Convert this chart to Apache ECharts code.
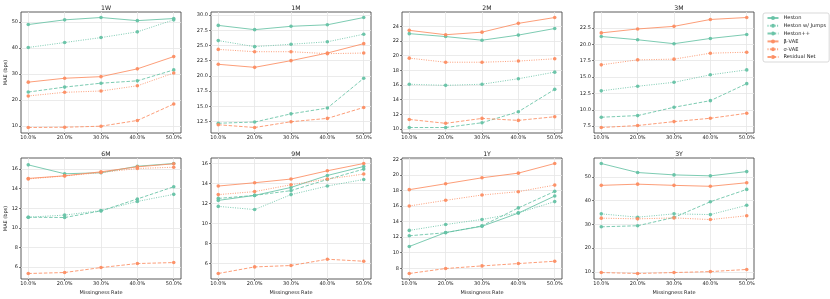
<!DOCTYPE html>
<html><head><meta charset="utf-8">
<script src="https://cdn.jsdelivr.net/npm/echarts@6/dist/echarts.min.js"></script>
<style>html,body{margin:0;padding:0;background:#fff}#c{width:830px;height:299px}</style>
</head><body><div id="c"></div>
<script>
// Missingness rates (x values, %)
const rates = [10, 20, 30, 40, 50];
const maturities = ['1W', '1M', '2M', '3M', '6M', '9M', '1Y', '3Y'];
const seriesNames = ['Heston', 'Heston w/ Jumps', 'Heston++', 'β-VAE', 'σ-VAE', 'Residual Net'];

// Rows follow maturities order: 1W, 1M, 2M, 3M, 6M, 9M, 1Y, 3Y
const heston = [
  [49.0, 50.8, 51.7, 50.5, 51.3],
  [28.3, 27.6, 28.15, 28.4, 29.6],
  [23.0, 22.6, 22.1, 22.8, 23.7],
  [21.2, 20.7, 20.1, 20.9, 21.5],
  [16.44, 15.53, 15.63, 16.3, 16.58],
  [12.3, 12.8, 13.6, 14.8, 15.7],
  [10.8, 12.6, 13.4, 15.1, 17.3],
  [55.6, 51.8, 50.8, 50.4, 52.2]
];
const hestonJumps = [
  [40.2, 42.1, 44.0, 46.2, 50.8],
  [25.8, 24.8, 25.2, 25.6, 26.85],
  [16.1, 15.95, 16.1, 16.85, 17.75],
  [12.9, 13.6, 14.2, 15.35, 16.1],
  [11.08, 11.3, 11.76, 12.7, 13.42],
  [11.7, 11.38, 12.88, 13.74, 14.4],
  [12.87, 13.63, 14.28, 15.13, 16.58],
  [34.4, 33.0, 34.4, 34.1, 38.0]
];
const hestonPP = [
  [23.1, 25.0, 26.5, 27.4, 31.6],
  [12.2, 12.4, 13.75, 14.7, 19.6],
  [10.2, 10.2, 10.85, 12.35, 15.4],
  [8.87, 9.12, 10.39, 11.4, 14.0],
  [11.08, 11.05, 11.73, 12.95, 14.2],
  [12.5, 12.8, 13.28, 14.4, 15.44],
  [12.18, 12.57, 13.46, 15.77, 17.9],
  [28.95, 29.4, 32.9, 39.5, 44.7]
];
const betaVAE = [
  [26.9, 28.4, 29.0, 32.0, 36.7],
  [21.9, 21.4, 22.5, 23.75, 25.3],
  [23.45, 22.85, 23.2, 24.4, 25.2],
  [21.75, 22.35, 22.75, 23.8, 24.1],
  [15.05, 15.32, 15.73, 16.24, 16.55],
  [13.74, 14.07, 14.44, 15.27, 16.0],
  [18.12, 18.88, 19.65, 20.25, 21.49],
  [46.4, 46.9, 46.4, 46.0, 47.5]
];
const sigmaVAE = [
  [21.6, 23.0, 23.5, 25.5, 30.4],
  [24.35, 23.97, 23.97, 23.65, 23.75],
  [19.66, 19.1, 19.1, 19.26, 19.57],
  [16.87, 17.63, 17.74, 18.65, 18.8],
  [15.0, 15.3, 15.66, 16.07, 16.2],
  [12.88, 13.18, 13.87, 14.44, 14.94],
  [16.02, 16.75, 17.43, 17.86, 18.71],
  [32.6, 32.3, 32.7, 32.0, 33.6]
];
const residualNet = [
  [9.5, 9.6, 10.0, 12.2, 18.5],
  [11.95, 11.5, 12.45, 13.0, 14.8],
  [11.3, 10.77, 11.44, 11.17, 11.67],
  [7.3, 7.6, 8.2, 8.71, 9.47],
  [5.32, 5.42, 5.93, 6.34, 6.44],
  [4.97, 5.63, 5.77, 6.4, 6.2],
  [7.32, 7.96, 8.3, 8.6, 8.9],
  [9.7, 9.3, 9.7, 10.1, 11.0]
];
// Y tick labels per panel
const yTicks = [
  [10, 20, 30, 40, 50],
  [12.5, 15, 17.5, 20, 22.5, 25, 27.5, 30],
  [10, 12, 14, 16, 18, 20, 22, 24],
  [7.5, 10, 12.5, 15, 17.5, 20, 22.5],
  [6, 8, 10, 12, 14, 16],
  [6, 8, 10, 12, 14, 16],
  [8, 10, 12, 14, 16, 18, 20, 22],
  [10, 20, 30, 40, 50]
];
const yDecimals = [0, 1, 0, 1, 0, 0, 0, 0];
const xTicks = [10, 20, 30, 40, 50];

const allData = [heston, hestonJumps, hestonPP, betaVAE, sigmaVAE, residualNet];
const GREEN = '#66c2a5', ORANGE = '#fc8d62';
const styles = [
  {color: GREEN, type: 'solid'},
  {color: GREEN, type: [1, 1.4]},
  {color: GREEN, type: [3.5, 1.7]},
  {color: ORANGE, type: 'solid'},
  {color: ORANGE, type: [1, 1.4]},
  {color: ORANGE, type: [3.5, 1.7]}
];

const FONT = 'DejaVu Sans';
const lefts = [21, 211, 402, 594];
const tops = [12, 158];
const W = 160, H = 121;

const grids = [], xAxes = [], yAxes = [], titles = [], series = [];
maturities.forEach((m, i) => {
  const col = i % 4, row = Math.floor(i / 4);
  grids.push({left: lefts[col], top: tops[row], width: W, height: H,
    show: true, borderColor: '#4a4a4a', borderWidth: 0.9, backgroundColor: 'transparent', containLabel: false});
  titles.push({text: m, left: lefts[col] + W / 2, top: tops[row] - 12, textAlign: 'center',
    textStyle: {fontFamily: FONT, fontSize: 6.2, fontWeight: 'normal', color: '#222'}});
  // y range with 5% padding like matplotlib autoscale
  let lo = Infinity, hi = -Infinity;
  allData.forEach(d => d[i].forEach(v => { lo = Math.min(lo, v); hi = Math.max(hi, v); }));
  const pad = (hi - lo) * 0.05;
  const dec = yDecimals[i];
  xAxes.push({type: 'value', gridIndex: i, min: 8, max: 52,
    axisLine: {show: false},
    axisTick: {show: true, length: 2, lineStyle: {color: '#444', width: 0.7}, customValues: xTicks},
    axisLabel: {customValues: xTicks, fontFamily: FONT, fontSize: 5, color: '#222', margin: 2.5,
      formatter: v => v.toFixed(1) + '%'},
    splitLine: {show: true, lineStyle: {color: '#e6e6e6', width: 0.8}},
    name: row === 1 ? 'Missingness Rate' : '', nameLocation: 'middle', nameGap: 11,
    nameTextStyle: {fontFamily: FONT, fontSize: 5, color: '#222'}
  });
  yAxes.push({type: 'value', gridIndex: i, min: lo - pad, max: hi + pad,
    axisLine: {show: false},
    axisTick: {show: true, length: 2, lineStyle: {color: '#444', width: 0.7}, customValues: yTicks[i]},
    axisLabel: {customValues: yTicks[i], fontFamily: FONT, fontSize: 5, color: '#222', margin: 3,
      formatter: v => v.toFixed(dec)},
    splitLine: {show: true, lineStyle: {color: '#e6e6e6', width: 0.8}},
    name: col === 0 ? 'MAE (bps)' : '', nameLocation: 'middle', nameGap: 13,
    nameTextStyle: {fontFamily: FONT, fontSize: 5, color: '#222'}
  });
  allData.forEach((d, k) => {
    series.push({
      type: 'line', name: seriesNames[k], xAxisIndex: i, yAxisIndex: i,
      data: rates.map((r, j) => [r, d[i][j]]),
      symbol: 'circle', symbolSize: 3.6, showSymbol: true,
      lineStyle: {color: styles[k].color, width: 1, type: styles[k].type, opacity: 0.85},
      itemStyle: {color: styles[k].color, opacity: 0.95},
      emphasis: {disabled: true}, silent: true, animation: false
    });
  });
});

const chart = echarts.init(document.getElementById('c'), null, {renderer: 'canvas'});
chart.setOption({
  animation: false,
  backgroundColor: '#fff',
  title: titles,
  grid: grids, xAxis: xAxes, yAxis: yAxes, series: series,
  legend: {
    data: seriesNames, orient: 'vertical', left: 763, top: 13,
    backgroundColor: '#fff', borderColor: '#cfcfcf', borderWidth: 0.8, borderRadius: 2,
    padding: [2.5, 3, 2.5, 3.5], itemWidth: 11, itemHeight: 5, itemGap: 2.8,
    textStyle: {fontFamily: FONT, fontSize: 5.1, color: '#222', lineHeight: 5},
    selectedMode: false
  }
});
</script></body></html>
